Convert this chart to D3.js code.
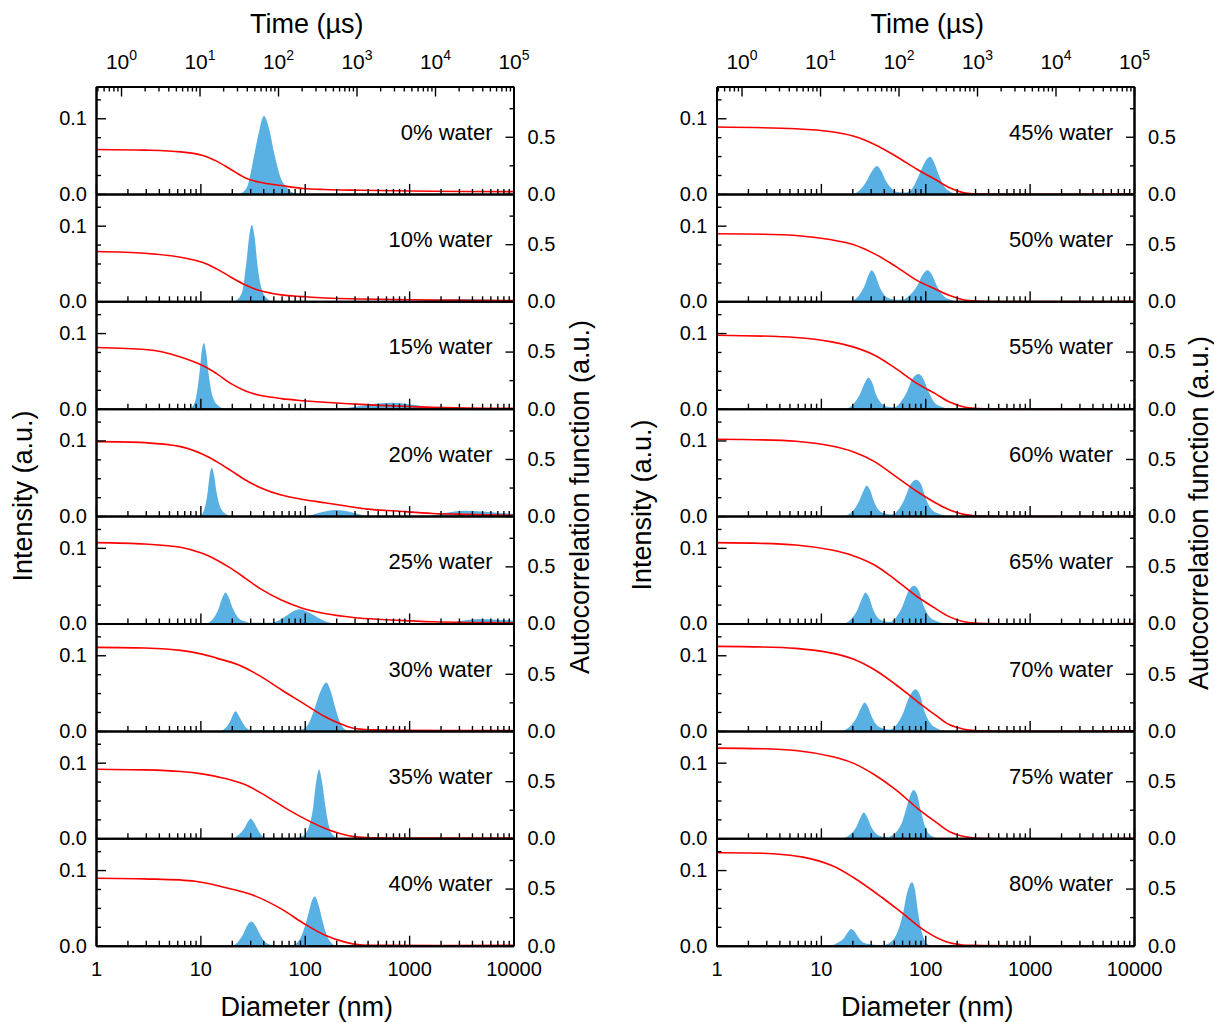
<!DOCTYPE html>
<html><head><meta charset="utf-8">
<script src="https://cdn.jsdelivr.net/npm/d3@7"></script>
<style>
body{margin:0;background:#fff}
svg text{font-family:"Liberation Sans",Arial,sans-serif;fill:#000}
</style>
</head><body>
<svg id="chart" width="1214" height="1023"></svg>
<script>
// ---------- labels & ticks ----------
const panelLabels = ["0% water","10% water","15% water","20% water","25% water","30% water","35% water","40% water",
  "45% water","50% water","55% water","60% water","65% water","70% water","75% water","80% water"];
const diameterMajor = [1,10,100,1000,10000];
const timeMajor = [1,10,100,1000,10000,100000];
const timeExponents = ["0","1","2","3","4","5"];
const intensityMajor = [0,0.1];
const intensityMinor = [0.025,0.05,0.075,0.125];
const acfMajor = [0,0.5];
const acfMinor = [0.25,0.75];

// ---------- size distributions [diameter nm, intensity] ----------
const distL0 = [[24.0,0],[28.2,0.01],[31.6,0.04],[35.5,0.075],[40.7,0.103],[45.7,0.085],[51.3,0.052],[57.5,0.025],[67.6,0.008],[81.3,0]];
const distL1 = [[21.4,0],[25.1,0.012],[27.5,0.05],[29.5,0.088],[31.1,0.101],[33.1,0.085],[35.1,0.05],[38.0,0.02],[42.7,0.005],[49.0,0],[891,0],[1585,0.002],[3162,0.003],[6310,0.002],[10000,0.001]];
const distL2 = [[7.94,0],[8.91,0.01],[9.77,0.045],[10.35,0.078],[10.81,0.087],[11.35,0.075],[12.02,0.045],[13.18,0.015],[15.14,0.003],[17.38,0],[200,0],[316,0.003],[501,0.007],[708,0.008],[1000,0.006],[1413,0.003],[2239,0]];
const distL3 = [[10,0],[10.96,0.01],[11.75,0.032],[12.30,0.055],[12.88,0.064],[13.49,0.055],[14.29,0.032],[15.49,0.012],[17.38,0.003],[19.50,0],[105,0],[135,0.004],[170,0.007],[195,0.008],[240,0.007],[300,0.004],[398,0],[1550,0],[2200,0.004],[3390,0.007],[5000,0.006],[7500,0.004],[10000,0.003]];
const distL4 = [[11.48,0],[13.18,0.006],[14.79,0.018],[16.22,0.034],[17.42,0.041],[18.62,0.035],[20.42,0.02],[22.91,0.008],[26.30,0.003],[30.2,0.001],[40,0.001],[47.86,0.001],[56.23,0.004],[66.07,0.01],[79.43,0.017],[89.13,0.019],[104.7,0.016],[125.9,0.01],[151.4,0.004],[195,0],[2138,0],[3000,0.003],[4677,0.006],[7000,0.005],[10000,0.004]];
const distL5 = [[15.85,0],[17.78,0.005],[19.50,0.014],[20.65,0.022],[21.78,0.026],[22.91,0.022],[25.12,0.012],[27.54,0.004],[31.62,0.001],[56.23,0.001],[89.13,0.001],[104.7,0.006],[117.5,0.02],[125.9,0.032],[141.3,0.052],[161.1,0.064],[177.8,0.052],[195.0,0.032],[213.8,0.014],[234.4,0.004],[263,0]];
const distL6 = [[20.89,0],[23.44,0.005],[26.30,0.013],[28.51,0.022],[30.41,0.026],[32.36,0.022],[35.08,0.013],[38.02,0.005],[43.65,0],[79.4,0],[91.2,0.002],[100,0.005],[109.6,0.015],[120.2,0.04],[128.8,0.075],[137.4,0.091],[146.2,0.075],[158.5,0.04],[173.8,0.012],[195,0.002],[213.8,0]];
const distL7 = [[20.42,0],[22.91,0.005],[25.70,0.015],[28.18,0.027],[30.90,0.032],[33.88,0.026],[37.15,0.015],[41.69,0.005],[48.98,0.001],[66.07,0.001],[75.86,0.001],[89.13,0.008],[100,0.025],[109.6,0.045],[117.5,0.06],[125,0.065],[134.9,0.055],[147.9,0.033],[162.2,0.014],[182,0.003],[199.5,0]];
const distR0 = [[20.89,0],[23.99,0.006],[26.92,0.015],[30.20,0.028],[34.51,0.037],[38.02,0.03],[41.69,0.018],[46.77,0.008],[52.48,0.003],[60.26,0.002],[66.07,0.002],[75.86,0.008],[87.10,0.025],[100,0.043],[110.9,0.049],[123.0,0.04],[134.9,0.025],[151.4,0.01],[173.8,0.003],[199.5,0]];
const distR1 = [[19.95,0],[22.91,0.007],[26.30,0.021],[28.84,0.036],[30.62,0.041],[33.11,0.035],[36.31,0.02],[40.74,0.008],[46.77,0.003],[52.48,0.002],[60.26,0.002],[70.79,0.008],[83.18,0.02],[95.50,0.036],[104.7,0.041],[114.8,0.036],[128.8,0.021],[147.9,0.008],[173.8,0.002],[199.5,0]];
const distR2 = [[17.78,0],[20.42,0.006],[23.44,0.018],[26.30,0.034],[28.51,0.041],[30.90,0.035],[33.88,0.018],[38.02,0.007],[42.66,0.003],[47.86,0.002],[50.1,0.002],[57.54,0.008],[66.07,0.021],[75.86,0.04],[86.10,0.046],[95.50,0.04],[107.2,0.023],[123.0,0.008],[141.3,0.003],[169.8,0]];
const distR3 = [[17.38,0],[19.95,0.006],[22.91,0.018],[25.70,0.034],[27.42,0.040],[29.51,0.035],[32.36,0.019],[36.31,0.007],[41.69,0.003],[46.77,0.002],[47.86,0.002],[54.95,0.008],[63.10,0.022],[72.44,0.042],[82.04,0.048],[91.20,0.042],[100,0.025],[114.8,0.009],[134.9,0.003],[166,0]];
const distR4 = [[16.98,0],[19.50,0.006],[22.39,0.018],[25.12,0.035],[26.79,0.041],[28.84,0.035],[31.62,0.019],[35.48,0.007],[40.74,0.003],[45.71,0.002],[52.48,0.008],[60.26,0.022],[69.18,0.043],[77.62,0.05],[87.10,0.043],[95.50,0.025],[109.6,0.009],[128.8,0.003],[158.5,0]];
const distR5 = [[16.60,0],[19.05,0.006],[21.88,0.017],[24.55,0.032],[26.18,0.0375],[28.18,0.032],[30.90,0.018],[34.67,0.007],[39.81,0.003],[44.67,0.002],[46.77,0.002],[53.70,0.009],[61.66,0.024],[70.79,0.046],[80.91,0.055],[89.13,0.047],[97.72,0.027],[112.2,0.01],[131.8,0.003],[158.5,0]];
const distR6 = [[16.60,0],[19.05,0.005],[21.88,0.015],[24.27,0.029],[25.76,0.034],[27.54,0.029],[30.20,0.016],[33.88,0.006],[38.90,0.002],[44.67,0.001],[45.71,0.002],[52.48,0.008],[60.26,0.022],[67.61,0.045],[72.44,0.058],[77.62,0.064],[83.18,0.058],[91.20,0.035],[100,0.015],[112.2,0.004],[131.8,0]];
const distR7 = [[12.59,0],[14.45,0.004],[16.60,0.01],[18.20,0.018],[19.54,0.022],[20.89,0.019],[22.91,0.011],[25.70,0.004],[29.51,0.002],[35.48,0.001],[39.81,0.001],[47.86,0.006],[54.95,0.02],[61.66,0.045],[67.61,0.072],[74.64,0.084],[79.43,0.075],[85.11,0.045],[93.33,0.016],[102.3,0.004],[112.2,0]];

// ---------- autocorrelation functions [time µs, value] ----------
const acfL0 = [[0.48,0.389],[2.0,0.383],[5.74,0.368],[10.8,0.339],[16.5,0.287],[25.2,0.213],[38.5,0.140],[58.6,0.102],[110,0.073],[208,0.047],[393,0.038],[1125,0.032],[9290,0.023],[100000,0.020]];
const acfL1 = [[0.48,0.436],[2.0,0.421],[5.74,0.386],[10.8,0.342],[16.5,0.284],[25.2,0.211],[38.5,0.143],[58.6,0.094],[110,0.056],[208,0.041],[393,0.029],[1125,0.020],[9290,0.012],[100000,0.006]];
const acfL2 = [[0.48,0.535],[2.0,0.518],[3.39,0.497],[5.74,0.453],[10.8,0.380],[16.5,0.307],[25.2,0.219],[38.5,0.155],[58.6,0.117],[110,0.088],[208,0.070],[393,0.056],[1125,0.038],[3236,0.023],[9290,0.012],[26700,0.006],[100000,0.003]];
const acfL3 = [[0.48,0.652],[2.0,0.643],[5.74,0.608],[10.8,0.544],[16.5,0.477],[25.2,0.398],[38.5,0.316],[58.6,0.251],[110,0.184],[208,0.146],[393,0.117],[740,0.088],[1390,0.061],[3236,0.044],[9290,0.023],[26700,0.015],[100000,0.006]];
const acfL4 = [[0.48,0.708],[2.0,0.696],[5.74,0.667],[10.8,0.614],[16.5,0.556],[25.2,0.482],[38.5,0.395],[58.6,0.307],[110,0.205],[208,0.132],[393,0.088],[914,0.053],[2120,0.035],[4935,0.023],[9290,0.015],[26700,0.009],[100000,0.006]];
const acfL5 = [[0.48,0.731],[2.0,0.725],[5.74,0.705],[10.8,0.672],[16.5,0.637],[31.1,0.579],[58.6,0.482],[110,0.360],[208,0.243],[393,0.126],[599,0.067],[914,0.023],[1715,0.009],[3236,0.006],[100000,0.003]];
const acfL6 = [[0.48,0.605],[2.0,0.599],[5.74,0.585],[10.8,0.564],[20.4,0.526],[38.5,0.468],[72.4,0.365],[136,0.249],[257,0.146],[393,0.088],[599,0.044],[914,0.015],[1390,0.006],[100000,0.003]];
const acfL7 = [[0.48,0.591],[2.0,0.585],[8.77,0.564],[20.4,0.512],[47.5,0.444],[110,0.322],[208,0.199],[392,0.094],[736,0.029],[1100,0.008],[2000,0.003],[100000,0.003]];
const acfR0 = [[0.48,0.585],[4.92,0.570],[14.1,0.544],[26.4,0.506],[49.5,0.433],[92.7,0.330],[174,0.213],[294,0.126],[448,0.053],[681,0.009],[933,0.0],[100000,0.0]];
const acfR1 = [[0.48,0.591],[4.92,0.576],[14.1,0.538],[26.4,0.497],[49.5,0.415],[92.7,0.304],[174,0.181],[294,0.108],[448,0.05],[681,0.012],[933,0.003],[100000,0.0]];
const acfR2 = [[0.48,0.643],[4.92,0.623],[14.1,0.585],[26.4,0.541],[49.5,0.468],[92.7,0.351],[174,0.219],[294,0.132],[448,0.058],[681,0.015],[933,0.003],[100000,0]];
const acfR3 = [[0.48,0.673],[4.92,0.655],[14.1,0.614],[26.4,0.564],[49.5,0.477],[92.7,0.345],[174,0.213],[294,0.117],[448,0.053],[681,0.015],[933,0.003],[100000,0]];
const acfR4 = [[0.48,0.708],[4.92,0.687],[14.1,0.643],[26.4,0.594],[49.5,0.512],[92.7,0.380],[174,0.234],[294,0.132],[448,0.058],[681,0.015],[933,0.003],[100000,0]];
const acfR5 = [[0.48,0.740],[4.92,0.722],[14.1,0.681],[26.4,0.629],[49.5,0.535],[92.7,0.404],[174,0.257],[294,0.140],[448,0.053],[681,0.015],[933,0.003],[100000,0]];
const acfR6 = [[0.48,0.789],[4.92,0.769],[14.1,0.716],[26.4,0.658],[49.5,0.556],[92.7,0.424],[174,0.263],[294,0.146],[448,0.058],[681,0.015],[933,0.003],[100000,0]];
const acfR7 = [[0.48,0.813],[2.5,0.805],[6.08,0.775],[14.1,0.702],[26.4,0.599],[61,0.424],[115,0.278],[215,0.132],[404,0.035],[614,0.009],[933,0.003],[100000,0]];

const distributions = [distL0,distL1,distL2,distL3,distL4,distL5,distL6,distL7,distR0,distR1,distR2,distR3,distR4,distR5,distR6,distR7];
const correlations = [acfL0,acfL1,acfL2,acfL3,acfL4,acfL5,acfL6,acfL7,acfR0,acfR1,acfR2,acfR3,acfR4,acfR5,acfR6,acfR7];

// ---------- layout ----------
const svg = d3.select("#chart");
const FONT = "'Liberation Sans', Arial, sans-serif";
const columns = [{x0:96, x1:513.5}, {x0:716.5, x1:1134}];
const plotTop = 86.5, panelH = 107.4, nRows = 8;
const BLUE = "#58B0E3", RED = "#FF0000";

function minorLogTicks(lo, hi){
  const out=[];
  for(let e=-1;e<=5;e++) for(let k=2;k<=9;k++){const v=k*Math.pow(10,e); if(v>=lo && v<=hi) out.push(v);}
  return out;
}

columns.forEach((col,ci)=>{
  const xD = d3.scaleLog().domain([1,10000]).range([col.x0,col.x1]);
  const xT = d3.scaleLog().domain([0.48,100000]).range([col.x0,col.x1]);
  const gCol = svg.append("g");

  for(let r=0;r<nRows;r++){
    const idx = ci*nRows + r;
    const T = plotTop + r*panelH, B = T + panelH;
    const yI = d3.scaleLinear().domain([0,0.142]).range([B,T]);
    const yA = d3.scaleLinear().domain([0,0.94]).range([B,T]);
    const clipId = "clip"+idx;
    gCol.append("clipPath").attr("id",clipId).append("rect")
      .attr("x",col.x0).attr("y",T).attr("width",col.x1-col.x0).attr("height",panelH);
    const g = gCol.append("g").attr("clip-path",`url(#${clipId})`);

    g.append("path").datum(distributions[idx])
      .attr("fill",BLUE).attr("stroke","none")
      .attr("d", d3.area().x(d=>xD(d[0])).y0(B).y1(d=>yI(d[1])).curve(d3.curveMonotoneX));
    g.append("path").datum(correlations[idx])
      .attr("fill","none").attr("stroke",RED).attr("stroke-width",1.6)
      .attr("d", d3.line().x(d=>xT(d[0])).y(d=>yA(Math.max(0,d[1]))).curve(d3.curveCatmullRom.alpha(0.5)));

    // bottom axis (ticks inward)
    const last = r===nRows-1;
    const bMaj = gCol.append("g").attr("transform",`translate(0,${B})`)
      .call(d3.axisBottom(xD).tickValues(diameterMajor).tickSize(-10).tickSizeOuter(0).tickPadding(16)
        .tickFormat(last ? d3.format("d") : ()=>""));
    const bMin = gCol.append("g").attr("transform",`translate(0,${B})`)
      .call(d3.axisBottom(xD).tickValues(minorLogTicks(1,10000)).tickSize(-5).tickSizeOuter(0).tickFormat(()=>""));
    // left axis
    const lMaj = gCol.append("g").attr("transform",`translate(${col.x0},0)`)
      .call(d3.axisLeft(yI).tickValues(intensityMajor).tickSize(-10).tickSizeOuter(0).tickPadding(9).tickFormat(d3.format(".1f")));
    const lMin = gCol.append("g").attr("transform",`translate(${col.x0},0)`)
      .call(d3.axisLeft(yI).tickValues(intensityMinor).tickSize(-5).tickSizeOuter(0).tickFormat(()=>""));
    // right axis
    const rMaj = gCol.append("g").attr("transform",`translate(${col.x1},0)`)
      .call(d3.axisRight(yA).tickValues(acfMajor).tickSize(-8).tickSizeOuter(0).tickPadding(14).tickFormat(d3.format(".1f")));
    const rMin = gCol.append("g").attr("transform",`translate(${col.x1},0)`)
      .call(d3.axisRight(yA).tickValues(acfMinor).tickSize(-4).tickSizeOuter(0).tickFormat(()=>""));
    [bMaj,bMin,lMaj,lMin,rMaj,rMin].forEach(a=>{
      a.attr("font-size",20).attr("font-family",FONT);
      a.select(".domain").attr("stroke-width",2);
      a.selectAll(".tick line").attr("stroke-width",1.4);
    });

    // top time axis on first panel
    if(r===0){
      const tMaj = gCol.append("g").attr("transform",`translate(0,${T})`)
        .call(d3.axisTop(xT).tickValues(timeMajor).tickSize(-10).tickSizeOuter(0).tickPadding(18).tickFormat(()=>""));
      const tMin = gCol.append("g").attr("transform",`translate(0,${T})`)
        .call(d3.axisTop(xT).tickValues(minorLogTicks(0.48,100000)).tickSize(-5).tickSizeOuter(0).tickFormat(()=>""));
      [tMaj,tMin].forEach(a=>{
        a.attr("font-size",21).attr("font-family",FONT);
        a.select(".domain").attr("stroke-width",2);
        a.selectAll(".tick line").attr("stroke-width",1.4);
      });
      tMaj.selectAll(".tick text").each(function(d,i){
        const t=d3.select(this);
        t.text(null);
        t.append("tspan").text("10");
        t.append("tspan").attr("font-size",14).attr("dy",-9).text(timeExponents[i]);
      });
    }

    // panel label
    gCol.append("text").attr("x",col.x1-21).attr("y",T+53)
      .attr("text-anchor","end").attr("font-size",22).text(panelLabels[idx]);
  }

  const cx = (col.x0+col.x1)/2 + 2;
  gCol.append("text").attr("x",cx).attr("y",33).attr("text-anchor","middle").attr("font-size",27).text("Time (µs)");
  gCol.append("text").attr("x",cx).attr("y",1016).attr("text-anchor","middle").attr("font-size",27).text("Diameter (nm)");
});

// axis titles
const titleSpecs = [
  {x:32, y:496, t:"Intensity (a.u.)"},
  {x:589, y:497, t:"Autocorrelation function (a.u.)"},
  {x:651, y:505, t:"Intensity (a.u.)"},
  {x:1208, y:513, t:"Autocorrelation function (a.u.)"}
];
titleSpecs.forEach(s=>{
  svg.append("text").attr("transform",`translate(${s.x},${s.y}) rotate(-90)`)
    .attr("text-anchor","middle").attr("font-size",27).text(s.t);
});
</script>
</body></html>
